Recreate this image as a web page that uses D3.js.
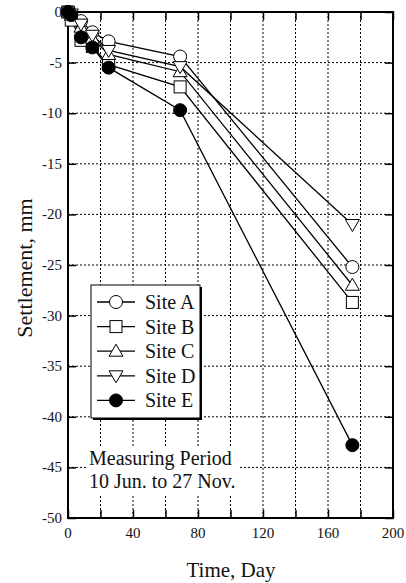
<!DOCTYPE html>
<html>
<head>
<meta charset="utf-8">
<script src="https://cdn.jsdelivr.net/npm/d3@7"></script>
<style>
  body { margin: 0; background: #fff; }
  text { font-family: "Liberation Serif", "Times New Roman", serif; fill: #111; }
</style>
</head>
<body>
<div id="chart"></div>
<script>
// data
var days = [0, 2, 8, 15, 25, 69, 175];
var siteA = [0, -0.2, -0.9, -2.0, -2.9, -4.4, -25.2];
var siteB = [0, -0.8, -2.8, -3.4, -5.2, -7.4, -28.7];
var siteC = [0, -0.3, -1.5, -2.6, -4.2, -5.9, -27.0];
var siteD = [0, -0.2, -1.2, -2.3, -3.8, -5.4, -21.0];
var siteE = [0, -0.3, -2.5, -3.5, -5.5, -9.7, -42.8];
var siteNames = ["Site A", "Site B", "Site C", "Site D", "Site E"];
var xTicks = [0, 40, 80, 120, 160, 200];
var yTicks = [0, -5, -10, -15, -20, -25, -30, -35, -40, -45, -50];

var series = [
  { name: siteNames[0], vals: siteA, sym: "circle" },
  { name: siteNames[1], vals: siteB, sym: "square" },
  { name: siteNames[2], vals: siteC, sym: "up" },
  { name: siteNames[3], vals: siteD, sym: "down" },
  { name: siteNames[4], vals: siteE, sym: "filled" }
];

var W = 406, H = 583;
var margin = { top: 12, right: 13, bottom: 65, left: 68 },
    width = W - margin.left - margin.right,
    height = H - margin.top - margin.bottom;

var svg = d3.select("#chart").append("svg")
    .attr("width", W).attr("height", H);
var g = svg.append("g")
    .attr("transform", "translate(" + margin.left + "," + margin.top + ")");

var x = d3.scaleLinear().domain([0, 200]).range([0, width]);
var y = d3.scaleLinear().domain([-50, 0]).range([height, 0]);

// dotted grid
g.append("g").selectAll("line")
    .data(d3.range(20, 200, 20))
    .enter().append("line")
    .attr("x1", function(d) { return x(d); }).attr("x2", function(d) { return x(d); })
    .attr("y1", 0).attr("y2", height)
    .attr("stroke", "#000").attr("stroke-width", 1).attr("stroke-dasharray", "2,2");
g.append("g").selectAll("line")
    .data(d3.range(-45, 0, 5))
    .enter().append("line")
    .attr("y1", function(d) { return y(d); }).attr("y2", function(d) { return y(d); })
    .attr("x1", 0).attr("x2", width)
    .attr("stroke", "#000").attr("stroke-width", 1).attr("stroke-dasharray", "2,2");

// axes with inward ticks
var xb = g.append("g").attr("transform", "translate(0," + height + ")")
    .call(d3.axisTop(x).tickValues(d3.range(0, 201, 20)).tickSize(8).tickFormat(""));
var xt = g.append("g")
    .call(d3.axisBottom(x).tickValues(d3.range(0, 201, 20)).tickSize(8).tickFormat(""));
var yl = g.append("g")
    .call(d3.axisRight(y).tickValues(yTicks).tickSize(8).tickFormat(""));
var yr = g.append("g").attr("transform", "translate(" + width + ",0)")
    .call(d3.axisLeft(y).tickValues(yTicks).tickSize(8).tickFormat(""));
[xb, xt, yl, yr].forEach(function(a) {
  a.select(".domain").remove();
  a.selectAll("line").attr("stroke", "#000").attr("stroke-width", 1.5);
});

// tick labels
g.append("g").selectAll("text")
    .data(xTicks).enter().append("text")
    .attr("x", function(d) { return x(d); })
    .attr("y", height + 20)
    .attr("text-anchor", "middle")
    .style("font-size", "15px")
    .text(function(d) { return d; });
g.append("g").selectAll("text")
    .data(yTicks).enter().append("text")
    .attr("x", -6)
    .attr("y", function(d) { return y(d) + 5; })
    .attr("text-anchor", "end")
    .style("font-size", "15px")
    .text(function(d) { return d; });

// frame
g.append("rect")
    .attr("width", width).attr("height", height)
    .attr("fill", "none").attr("stroke", "#000").attr("stroke-width", 2);

// symbols
function drawSymbol(sel, sym, cx, cy) {
  if (sym === "circle" || sym === "filled") {
    sel.append("circle").attr("cx", cx).attr("cy", cy).attr("r", 6.5)
      .attr("fill", sym === "filled" ? "#000" : "#fff")
      .attr("stroke", "#000").attr("stroke-width", 1);
  } else if (sym === "square") {
    sel.append("rect").attr("x", cx - 6).attr("y", cy - 6)
      .attr("width", 12).attr("height", 12)
      .attr("fill", "#fff").attr("stroke", "#000").attr("stroke-width", 1);
  } else {
    var s = sym === "up" ? 1 : -1;
    var pts = [[cx, cy - 7 * s], [cx - 7, cy + 5 * s], [cx + 7, cy + 5 * s]];
    sel.append("polygon").attr("points", pts.map(function(p) { return p.join(","); }).join(" "))
      .attr("fill", "#fff").attr("stroke", "#000").attr("stroke-width", 1);
  }
}

var line = d3.line()
    .x(function(d, i) { return x(days[i]); })
    .y(function(d) { return y(d); });

series.forEach(function(s) {
  g.append("path").datum(s.vals)
    .attr("d", line)
    .attr("fill", "none").attr("stroke", "#000").attr("stroke-width", 1.3);
});
series.forEach(function(s) {
  var sg = g.append("g");
  s.vals.forEach(function(v, i) {
    drawSymbol(sg, s.sym, x(days[i]), y(v));
  });
});

// legend
var lg = svg.append("g").attr("transform", "translate(91,285)");
lg.append("rect").attr("x", 2).attr("y", 2).attr("width", 109).attr("height", 133).attr("fill", "#000");
lg.append("rect").attr("width", 109).attr("height", 133)
    .attr("fill", "#fff").attr("stroke", "#000").attr("stroke-width", 1);
series.forEach(function(s, i) {
  var ly = 17 + i * 24.6;
  lg.append("line").attr("x1", 6).attr("x2", 44).attr("y1", ly).attr("y2", ly)
    .attr("stroke", "#000").attr("stroke-width", 1.3);
  drawSymbol(lg, s.sym, 25, ly);
  lg.append("text").attr("x", 54).attr("y", ly + 7)
    .style("font-size", "20px").text(s.name);
});

// annotation
var note = ["Measuring Period", "10 Jun. to 27 Nov."];
var ng = svg.append("g");
ng.append("rect").attr("x", 86).attr("y", 446).attr("width", 154).attr("height", 50).attr("fill", "#fff");
note.forEach(function(t, i) {
  ng.append("text").attr("x", 89).attr("y", 465 + i * 23)
    .style("font-size", "20px").text(t);
});

// axis titles
svg.append("text")
    .attr("x", 231).attr("y", 577)
    .attr("text-anchor", "middle")
    .style("font-size", "21px")
    .text("Time, Day");
svg.append("text")
    .attr("transform", "translate(32,268) rotate(-90)")
    .attr("text-anchor", "middle")
    .style("font-size", "22px")
    .text("Settlement, mm");
</script>
</body>
</html>
